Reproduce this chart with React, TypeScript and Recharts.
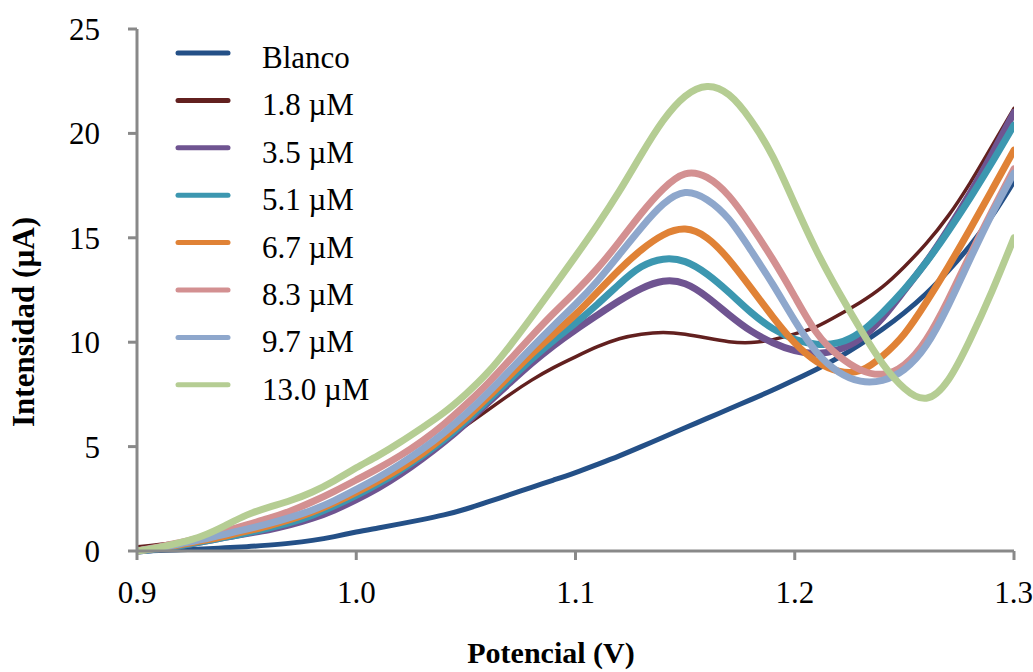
import React from "react";
import { LineChart, Line, XAxis, YAxis, Legend } from "recharts";

const potencial = [
  0.9, 0.91, 0.92, 0.93, 0.94, 0.95, 0.96, 0.97, 0.98, 0.99, 1.0,
  1.01, 1.02, 1.03, 1.04, 1.05, 1.06, 1.07, 1.08, 1.09, 1.1,
  1.11, 1.12, 1.13, 1.14, 1.15, 1.16, 1.17, 1.18, 1.19, 1.2,
  1.21, 1.22, 1.23, 1.24, 1.25, 1.26, 1.27, 1.28, 1.29, 1.3,
];

const blanco = [
  0, 0.02, 0.06, 0.1, 0.15, 0.2, 0.28, 0.37, 0.5, 0.68, 0.92,
  1.1, 1.3, 1.5, 1.72, 2.0, 2.35, 2.7, 3.05, 3.4, 3.75,
  4.15, 4.55, 5.0, 5.45, 5.9, 6.35, 6.8, 7.25, 7.7, 8.2,
  8.7, 9.25, 9.9, 10.6, 11.4, 12.3, 13.4, 14.6, 16.0, 17.7,
];
const c18 = [
  0.2, 0.3, 0.45, 0.65, 0.85, 1.1, 1.3, 1.5, 1.8, 2.2, 2.7,
  3.25, 3.9, 4.6, 5.3, 6.0, 6.75, 7.5, 8.2, 8.8, 9.3,
  9.8, 10.2, 10.4, 10.5, 10.4, 10.2, 10.0, 9.95, 10.1, 10.4,
  10.7, 11.3, 11.9, 12.6, 13.6, 14.7, 16.0, 17.6, 19.4, 21.2,
];
const c35 = [
  0, 0.1, 0.25, 0.45, 0.65, 0.85, 1.0, 1.25, 1.55, 1.95, 2.45,
  3.0, 3.65, 4.4, 5.2, 6.1, 7.1, 8.05, 9.0, 9.85, 10.6,
  11.3, 12.0, 12.6, 13.0, 12.9, 12.2, 11.3, 10.5, 9.95, 9.55,
  9.4, 9.6, 10.1, 11.1, 12.5, 13.8, 15.4, 17.1, 19.0, 21.0,
];
const c51 = [
  0, 0.1, 0.25, 0.45, 0.65, 0.85, 1.1, 1.35, 1.7, 2.15, 2.65,
  3.2, 3.85, 4.55, 5.3, 6.2, 7.2, 8.2, 9.2, 10.1, 10.9,
  11.8, 12.8, 13.7, 14.05, 13.95, 13.3, 12.4, 11.4, 10.6, 10.1,
  9.85, 9.9, 10.4, 11.4, 12.5, 13.8, 15.3, 16.9, 18.6, 20.4,
];
const c67 = [
  0, 0.15, 0.3, 0.5, 0.7, 0.95, 1.2, 1.5, 1.85, 2.3, 2.8,
  3.35, 3.95, 4.65, 5.45, 6.35, 7.35, 8.4, 9.45, 10.4, 11.3,
  12.4, 13.5, 14.45, 15.2, 15.55, 15.1, 14.0, 12.6, 11.2, 9.9,
  9.0, 8.55, 8.5, 9.3, 10.3, 11.9, 13.6, 15.4, 17.3, 19.2,
];
const c83 = [
  0, 0.2, 0.4, 0.65, 0.95, 1.25, 1.55, 1.9, 2.35, 2.85, 3.4,
  3.95, 4.55, 5.25, 6.05, 7.0, 8.0, 9.15, 10.3, 11.4, 12.4,
  13.5, 14.8, 16.2, 17.4, 18.25, 18.0, 17.1, 15.6, 14.0, 12.2,
  10.3, 9.3, 8.6, 8.35, 8.8, 10.0, 12.0, 14.2, 16.3, 18.3,
];
const c97 = [
  0, 0.15, 0.35, 0.55, 0.8, 1.05, 1.3, 1.6, 1.95, 2.4, 2.95,
  3.5, 4.15, 4.85, 5.65, 6.55, 7.55, 8.65, 9.75, 10.8, 11.8,
  12.9, 14.2, 15.5, 16.7, 17.35, 16.9, 16.0, 14.4, 12.8, 11.0,
  9.4, 8.5, 8.05, 8.1, 8.6, 9.7, 11.7, 14.0, 16.2, 18.1,
];
const c130 = [
  0, 0.15, 0.4, 0.7, 1.2, 1.75, 2.1, 2.4, 2.8, 3.35, 4.0,
  4.55, 5.2, 5.9, 6.6, 7.5, 8.5, 9.8, 11.2, 12.65, 14.1,
  15.6, 17.2, 19.0, 20.7, 21.9, 22.4, 22.0, 20.7, 19.0, 16.6,
  14.3, 12.4, 10.6, 8.9, 7.7, 7.05, 8.0, 10.1, 12.4, 15.0,
];

const xTicks = [0.9, 1.0, 1.1, 1.2, 1.3];
const yTicks = [0, 5, 10, 15, 20, 25];

const seriesNames = ["Blanco", "1.8 µM", "3.5 µM", "5.1 µM", "6.7 µM", "8.3 µM", "9.7 µM", "13.0 µM"];
const seriesValues = [blanco, c18, c35, c51, c67, c83, c97, c130];
const seriesColors = ["#245087", "#62201F", "#6F5491", "#3C97B0", "#E08236", "#D39091", "#8EA7CC", "#B5CD93"];
const seriesWidths = [5, 3.5, 7, 7, 7, 7, 7, 7];

const data = potencial.map((v, i) => {
  const row: Record<string, number> = { v };
  seriesValues.forEach((arr, k) => {
    row["s" + k] = arr[i];
  });
  return row;
});

const FONT = '"Liberation Serif", "Times New Roman", serif';
const AXIS = "#898989";

const XTitle = () => (
  <text x={551} y={663} textAnchor="middle" fontFamily={FONT} fontWeight="bold" fontSize={30} fill="#000">
    Potencial (V)
  </text>
);
const YTitle = () => (
  <text
    x={0}
    y={0}
    transform="translate(34 322) rotate(-90)"
    textAnchor="middle"
    fontFamily={FONT}
    fontWeight="bold"
    fontSize={31}
    fill="#000"
  >
    Intensidad (µA)
  </text>
);

const renderLegend = (props: any) => {
  const payload = [...(props.payload || [])].sort(
    (a: any, b: any) => seriesNames.indexOf(a.value) - seriesNames.indexOf(b.value)
  );
  return (
    <svg width={420} height={400} style={{ display: "block" }}>
      {payload.map((p: any, i: number) => {
        const cy = 23 + i * 47.4;
        return (
          <g key={p.value}>
            <line x1={178} x2={228} y1={cy} y2={cy} stroke={p.color} strokeWidth={5} strokeLinecap="round" />
            <text x={262} y={cy + 15} fontFamily={FONT} fontSize={31} fill="#000">
              {p.value}
            </text>
          </g>
        );
      })}
    </svg>
  );
};

export default function App() {
  return (
    <div style={{ position: "absolute", left: 0, top: 0, width: 1033, height: 672, background: "#fff" }}>
      <LineChart width={1033} height={672} data={data} margin={{ top: 29, right: 19, bottom: 61, left: 0 }}>
        <XAxis
          type="number"
          dataKey="v"
          domain={[0.9, 1.3]}
          ticks={xTicks}
          tickFormatter={(v: number) => v.toFixed(1)}
          height={60}
          axisLine={{ stroke: AXIS, strokeWidth: 3 }}
          tickLine={{ stroke: AXIS, strokeWidth: 3 }}
          tickSize={9}
          tickMargin={21}
          tick={{ fill: "#000", fontSize: 31, fontFamily: FONT }}
          label={<XTitle />}
          allowDataOverflow
        />
        <YAxis
          type="number"
          domain={[0, 25]}
          ticks={yTicks}
          width={137}
          axisLine={{ stroke: AXIS, strokeWidth: 3 }}
          tickLine={{ stroke: AXIS, strokeWidth: 3 }}
          tickSize={9}
          tickMargin={28}
          tick={{ fill: "#000", fontSize: 31, fontFamily: FONT }}
          label={<YTitle />}
        />
        <Legend
          layout="vertical"
          align="center"
          verticalAlign="middle"
          content={renderLegend}
          wrapperStyle={{ left: 0, top: 30, width: 420, height: 400 }}
        />
        {seriesNames.map((name, k) => (
          <Line
            key={name}
            type="basis"
            dataKey={"s" + k}
            name={name}
            stroke={seriesColors[k]}
            strokeWidth={seriesWidths[k]}
            strokeLinecap="round"
            strokeLinejoin="round"
            dot={false}
            activeDot={false}
            isAnimationActive={false}
          />
        ))}
      </LineChart>
    </div>
  );
}
